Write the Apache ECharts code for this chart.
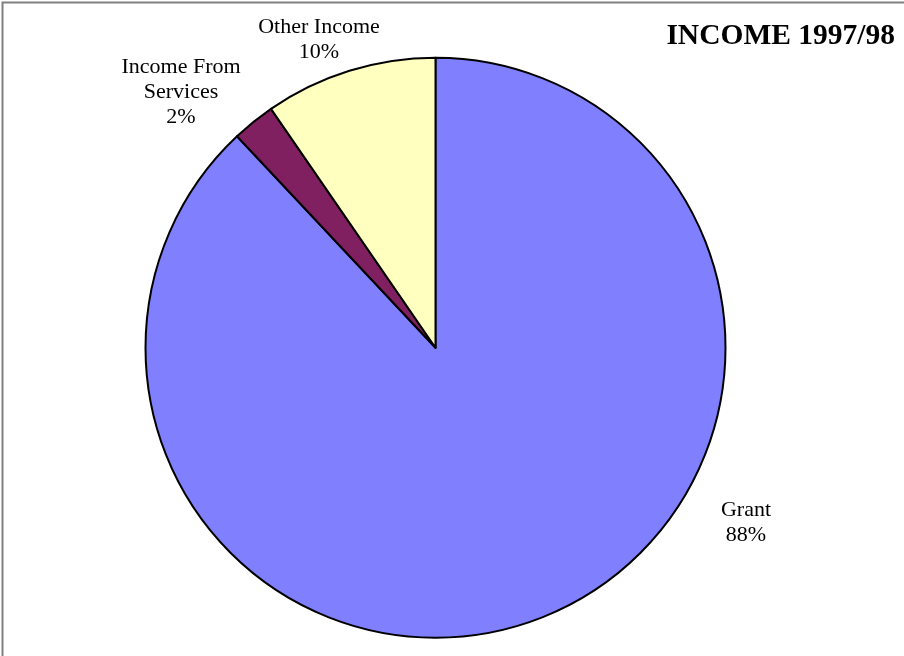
<!DOCTYPE html>
<html>
<head>
<meta charset="utf-8">
<script src="https://cdn.jsdelivr.net/npm/echarts@6/dist/echarts.min.js"></script>
<style>
html,body{margin:0;padding:0;background:#fff;}
#chart{width:904px;height:656px;}
</style>
</head>
<body>
<div id="chart"></div>
<script>
const titleText = 'INCOME 1997/98';
const categories = ['Grant', 'Income From\nServices', 'Other Income'];
const values = [88.0, 2.4, 9.6];
const colors = ['#8080FF', '#802060', '#FFFFC0'];
const labelPos = [[746, 523], [181, 92], [319, 40]];

const chart = echarts.init(document.getElementById('chart'), null, {renderer: 'canvas'});
chart.setOption({
  backgroundColor: '#ffffff',
  animation: false,
  title: {
    text: titleText,
    right: 4,
    top: 16,
    textStyle: {fontFamily: 'Liberation Serif', fontWeight: 'bold', fontSize: 29.5, color: '#000'}
  },
  graphic: [{
    type: 'rect',
    shape: {x: 2.5, y: 2.5, width: 910, height: 670},
    style: {fill: 'none', stroke: '#808080', lineWidth: 2},
    silent: true
  }],
  series: [{
    type: 'pie',
    center: [435.5, 347.7],
    radius: 290,
    startAngle: 90,
    clockwise: true,
    percentPrecision: 0,
    data: categories.map((c, i) => ({name: c, value: values[i], itemStyle: {color: colors[i]}})),
    itemStyle: {borderColor: '#000', borderWidth: 2},
    label: {
      show: true,
      position: 'outside',
      formatter: '{b}\n{d}%',
      fontFamily: 'Liberation Serif',
      fontSize: 22,
      lineHeight: 25,
      color: '#000',
      align: 'center'
    },
    labelLine: {show: false},
    labelLayout: function (params) {
      const p = labelPos[params.dataIndex];
      return {x: p[0], y: p[1], align: 'center', verticalAlign: 'middle'};
    },
    emphasis: {disabled: true}
  }]
});
</script>
</body>
</html>
